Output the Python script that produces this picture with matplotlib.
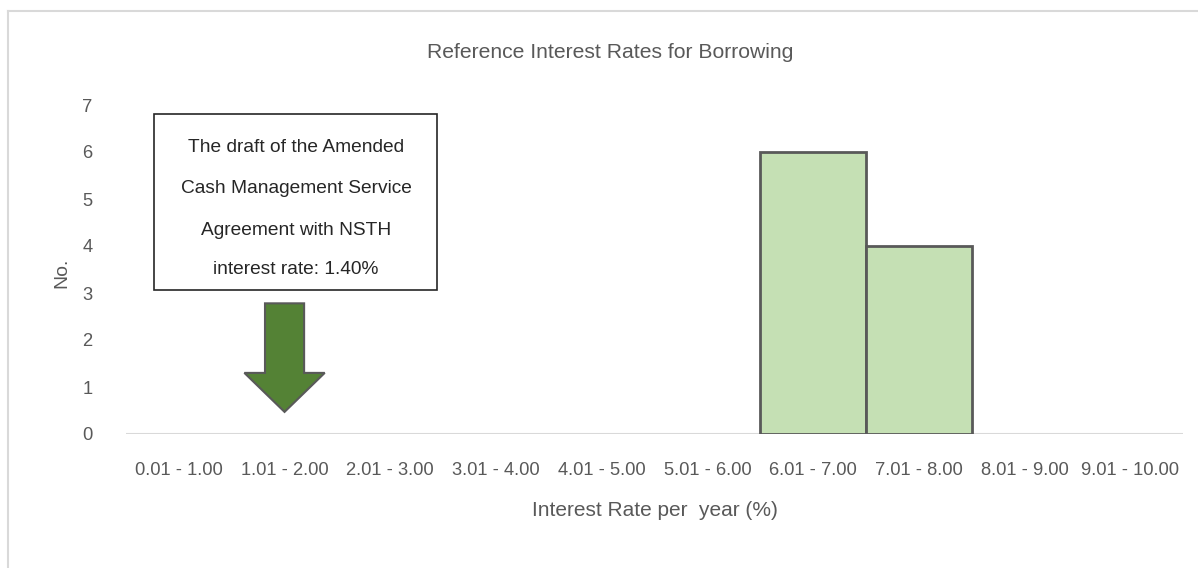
import matplotlib
matplotlib.use("Agg")
import matplotlib.pyplot as plt
from matplotlib.patches import Rectangle, FancyArrow
from matplotlib.lines import Line2D

categories = ["0.01 - 1.00", "1.01 - 2.00", "2.01 - 3.00", "3.01 - 4.00", "4.01 - 5.00",
              "5.01 - 6.00", "6.01 - 7.00", "7.01 - 8.00", "8.01 - 9.00", "9.01 - 10.00"]
counts = [0, 0, 0, 0, 0, 0, 6, 4, 0, 0]
y_ticks = [0, 1, 2, 3, 4, 5, 6, 7]
note_lines = ["The draft of the Amended", "Cash Management Service",
              "Agreement with NSTH", "interest rate: 1.40%"]
note_category = 1  # 1.01 - 2.00 (1.40%)

plt.rcParams['font.family'] = ['Liberation Sans', 'DejaVu Sans']
gray = '#595959'

fig = plt.figure(figsize=(11.98, 5.68), dpi=100)
ax = fig.add_axes([126/1198, 1-434/568, 1057/1198, 329/568])

x = list(range(len(categories)))
for xi, c in zip(x, counts):
    if c > 0:
        ax.bar(xi, c, width=1.0, color='#c5e0b4', edgecolor=gray, linewidth=2, zorder=3)

ax.set_xlim(-0.5, len(categories) - 0.5)
ax.set_ylim(0, 7)
ax.set_yticks(y_ticks)
ax.set_xticks(x)
ax.set_xticklabels(categories)
ax.tick_params(axis='both', length=0, colors=gray, labelsize=13.2)
ax.tick_params(axis='x', pad=20)
ax.tick_params(axis='y', pad=24)
for s in ax.spines.values():
    s.set_visible(False)
ax.axhline(0, color='#d9d9d9', linewidth=1.5, zorder=2)

ax.set_xlabel("Interest Rate per  year (%)", color=gray, fontsize=15, labelpad=16)
ax.set_ylabel("No.", color=gray, fontsize=14)
ax.yaxis.set_label_coords(-0.053, 0.49)
fig.text(610/1198, 1-52/568, "Reference Interest Rates for Borrowing", ha='center', va='center',
         color=gray, fontsize=15.2)

# note box
bx0, bx1 = -0.237, 2.44
by0, by1 = 3.07, 6.8
ax.add_patch(Rectangle((bx0, by0), bx1 - bx0, by1 - by0, facecolor='white',
                       edgecolor='#262626', linewidth=1.2, zorder=4, clip_on=False))
line_ys = [6.1, 5.22, 4.34, 3.49]
for t, yy in zip(note_lines, line_ys):
    ax.text(1.11, yy, t, ha='center', va='center', fontsize=13.8, color='#262626', zorder=5)

# arrow
ax.add_patch(FancyArrow(note_category, 2.78, 0, -(2.78 - 0.47),
                        width=0.37, head_width=0.76, head_length=0.83,
                        length_includes_head=True, facecolor='#548235', edgecolor=gray,
                        linewidth=1.5, zorder=5))

# outer border (top and left)
fig.add_artist(Line2D([8/1198, 1], [1-10.5/568, 1-10.5/568], color='#d9d9d9', linewidth=1.5))
fig.add_artist(Line2D([8/1198, 8/1198], [0, 1-10.5/568], color='#d9d9d9', linewidth=1.5))

fig.savefig("out.png", dpi=100, facecolor='white')
